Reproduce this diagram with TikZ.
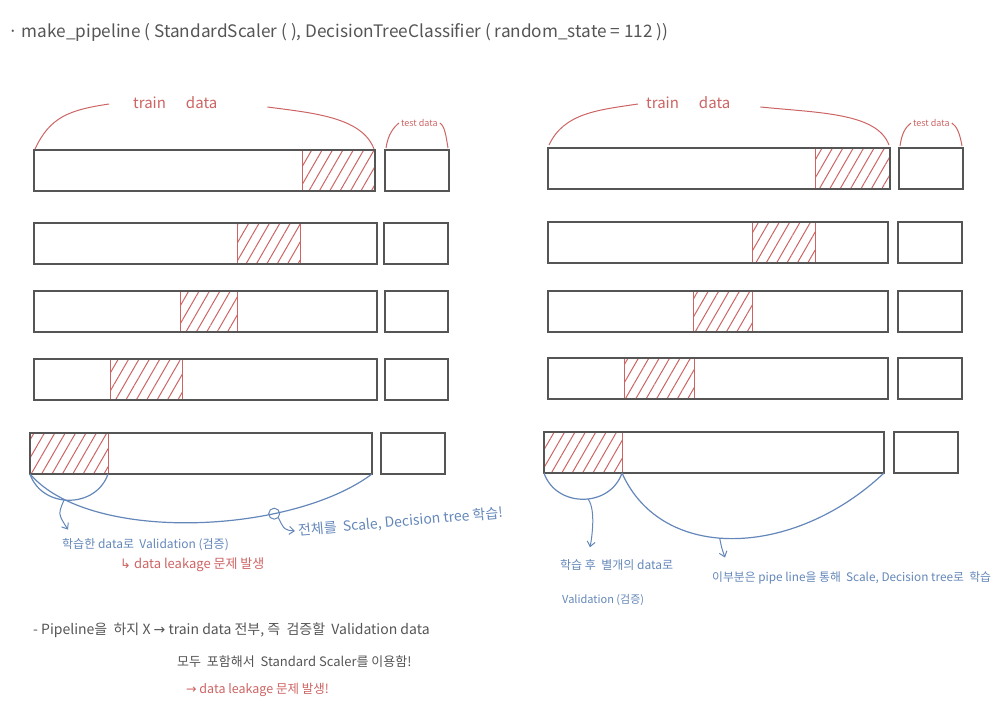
\documentclass[tikz,border=0pt]{standalone}
\usepackage{fontspec}
\setmainfont{Noto Sans CJK KR}
\newfontfamily\symfont{DejaVu Sans}
\usetikzlibrary{patterns.meta,arrows.meta}
\definecolor{barline}{RGB}{85,85,85}
\definecolor{hatchred}{RGB}{205,100,100}
\definecolor{noteblue}{RGB}{100,135,185}
\tikzset{
  bar/.style={draw=barline,line width=1.2pt,inner sep=0pt,outer sep=0pt,anchor=north west,minimum height=41pt},
  hatch/.style={draw=hatchred,line width=1pt,inner sep=0pt,outer sep=0pt,anchor=north west,minimum height=41pt,
    pattern={Lines[angle=60,distance=9pt,line width=1pt]},pattern color=hatchred},
  brace/.style={draw=hatchred,line width=1pt},
  arc/.style={draw=noteblue,line width=1.2pt},
  pointer/.style={draw=noteblue,line width=1pt,-{Straight Barb[length=5pt,width=8pt]}},
  note/.style={text=noteblue,inner sep=0pt,anchor=west,font=\fontsize{12}{14}\selectfont},
  warn/.style={text=hatchred,inner sep=0pt,anchor=west,font=\fontsize{13}{15}\selectfont},
  memo/.style={text=barline,inner sep=0pt,anchor=west,font=\fontsize{13}{15}\selectfont}
}
\begin{document}
\begin{tikzpicture}[x=1pt,y=-1pt]
\useasboundingbox (0,0) rectangle (1005,708);
\node[memo,font=\fontsize{17.2}{20}\selectfont] (title) at (8,32)
  {· make\_pipeline ( StandardScaler ( ), DecisionTreeClassifier ( random\_state = 112 ))};

\foreach \n/\y/\xa/\xb/\ha/\hb/\ta/\tb in {
    L1/150/34/375/302/375/385/449, L2/223/34/377/237/300/384/448,
    L3/291/34/377/180/237/385/448, L4/359/34/377/110/182/385/448,
    L5/433/30/372/30/108/381/445,
    R1/148/548/890/815/890/899/963, R2/222/548/888/752/815/898/962,
    R3/291/548/888/693/752/898/962, R4/358/548/888/624/694/898/962,
    R5/432/544/884/544/622/894/958}{
  \pgfmathsetmacro\bw{\xb-\xa}
  \pgfmathsetmacro\hw{\hb-\ha}
  \pgfmathsetmacro\tw{\tb-\ta}
  \node[hatch,minimum width=\hw pt] (\n-h) at (\ha,\y) {};
  \node[bar,minimum width=\bw pt] (\n) at (\xa,\y) {};
  \node[bar,minimum width=\tw pt] (\n-t) at (\ta,\y) {};
}

\node[warn,font=\fontsize{15}{17}\selectfont] (trainL) at (133,103) {train\hspace{20pt}data};
\node[warn,font=\fontsize{15}{17}\selectfont] (trainR) at (646,103) {train\hspace{20pt}data};
\node[warn,font=\fontsize{9}{10}\selectfont] (testL) at (401,123) {test data};
\node[warn,font=\fontsize{9}{10}\selectfont] (testR) at (913,123) {test data};

\draw[brace] ([xshift=1pt,yshift=1pt]L1.north west) .. controls +(15,-32) and +(-40,6) .. ([xshift=-24pt,yshift=-1pt]trainL.west);
\draw[brace] ([xshift=50pt,yshift=-4pt]trainL.east) .. controls +(45,6) and +(-12,-32) .. ([xshift=-1pt,yshift=1pt]L1.north east);
\draw[brace] ([xshift=1pt,yshift=2pt]L1-t.north west) .. controls +(2,-14) and +(-5,4) .. ([xshift=-2pt]testL.west);
\draw[brace] ([xshift=2pt]testL.east) .. controls +(5,3) and +(-2,-12) .. ([xshift=-1pt,yshift=2pt]L1-t.north east);
\draw[brace] ([xshift=1pt,yshift=3pt]R1.north west) .. controls +(15,-32) and +(-40,6) .. ([xshift=-8pt,yshift=-1pt]trainR.west);
\draw[brace] ([xshift=30pt,yshift=-4pt]trainR.east) .. controls +(60,6) and +(-12,-32) .. ([xshift=-1pt,yshift=3pt]R1.north east);
\draw[brace] ([xshift=1pt,yshift=2pt]R1-t.north west) .. controls +(2,-14) and +(-5,4) .. ([xshift=-2pt]testR.west);
\draw[brace] ([xshift=2pt]testR.east) .. controls +(5,3) and +(-2,-12) .. ([xshift=-1pt,yshift=2pt]R1-t.north east);

\draw[arc] (L5.south west) .. controls +(12,35) and +(-12,35) .. (L5-h.south east) coordinate[pos=0.45] (valL);
\draw[arc] (L5.south west) .. controls +(60,70) and +(-80,60) .. (L5.south east)
  node[pos=0.7,draw=noteblue,line width=1pt,circle,inner sep=0pt,minimum size=11pt] (lens) {};
\draw[arc] (R5.south west) .. controls +(12,35) and +(-12,35) .. (R5-h.south east) coordinate[pos=0.55] (valR);
\draw[arc] (R5-h.south east) .. controls +(40,90) and +(-90,85) .. (R5.south east) coordinate[pos=0.45] (restR);

\node[note] (validL) at (62,545) {학습한 data로 \ Validation (검증)};
\node[warn] (leakL) at (120,565) {{\symfont ↳} data leakage 문제 발생};
\node[note,font=\fontsize{14}{16}\selectfont,rotate=5] (whole) at (298,531) {전체를 \ Scale, Decision tree 학습!};
\node[note] (validR) at (560,565) {학습 후 \ 별개의 data로};
\node[note,font=\fontsize{11}{13}\selectfont] (validR2) at (562,600) {Validation (검증)};
\node[note,font=\fontsize{11.8}{14}\selectfont] (restnote) at (712,578) {이부분은 pipe line을 통해 \ Scale, Decision tree로 \ 학습};

\draw[pointer] (valL) .. controls +(-6,14) .. ([xshift=6pt,yshift=9pt]validL.north west);
\draw[pointer] (lens.south east) .. controls +(6,12) .. ([xshift=-3pt]whole.west);
\draw[pointer] (valR) .. controls +(8,10) and +(2,-10) .. ([xshift=30pt,yshift=12pt]validR.north west);
\draw[pointer] (restR) .. controls +(2,10) .. ([xshift=13pt,yshift=14pt]restnote.north west);

\node[memo,font=\fontsize{14}{16}\selectfont] (memo1) at (33,630) {- Pipeline을 \ 하지 X {\symfont →} train data 전부, 즉 \ 검증할 \ Validation data};
\node[memo] (memo2) at (177,662) {모두 \ 포함해서 \ Standard Scaler를 이용함!};
\node[warn,font=\fontsize{12.5}{14}\selectfont] (memo3) at (186,690) {{\symfont →} data leakage 문제 발생!};
\end{tikzpicture}
\end{document}
